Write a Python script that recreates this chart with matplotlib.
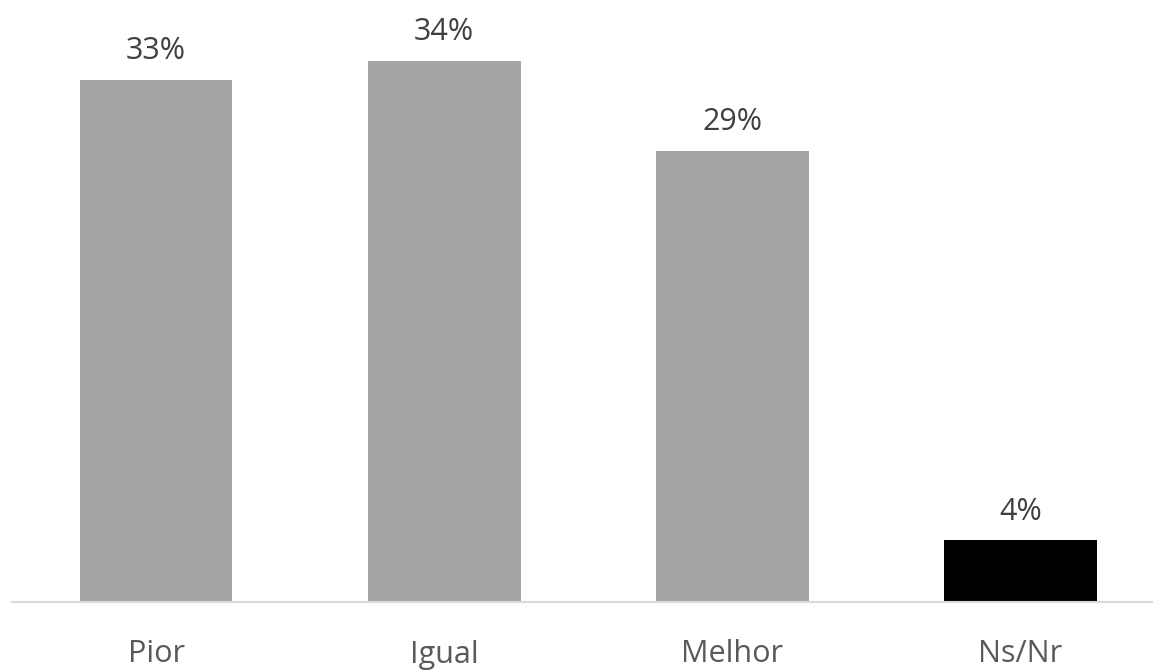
import matplotlib.pyplot as plt
import numpy as np

plt.rcParams['font.family'] = ['Open Sans', 'DejaVu Sans']

categories = ['Pior', 'Igual', 'Melhor', 'Ns/Nr']
values = [33.1, 34.3, 28.6, 3.9]
colors = ['#a5a5a5', '#a5a5a5', '#a5a5a5', '#000000']

fig = plt.figure(figsize=(11.53, 6.70), dpi=100)
ax = fig.add_axes([12/1153, 68/670, 1 - 12/1153, 1 - 68/670])

x = np.arange(len(categories))
bars = ax.bar(x, values, width=0.53, color=colors)

for b, v in zip(bars, values):
    ax.annotate(f'{round(v)}%', (b.get_x() + b.get_width()/2, v),
                xytext=(0, 10), textcoords='offset points',
                ha='center', va='bottom', fontsize=22, color='#404040')

ax.set_xlim(-0.5, 3.46)
ax.set_ylim(0, 38.17)
ax.set_xticks(x)
ax.set_xticklabels(categories, fontsize=22, color='#595959')
ax.tick_params(axis='x', length=0, pad=27)
ax.set_yticks([])
for s in ['top', 'right', 'left']:
    ax.spines[s].set_visible(False)
ax.spines['bottom'].set_color('#d9d9d9')
ax.spines['bottom'].set_linewidth(1.5)

fig.savefig('out.png', dpi=100)
